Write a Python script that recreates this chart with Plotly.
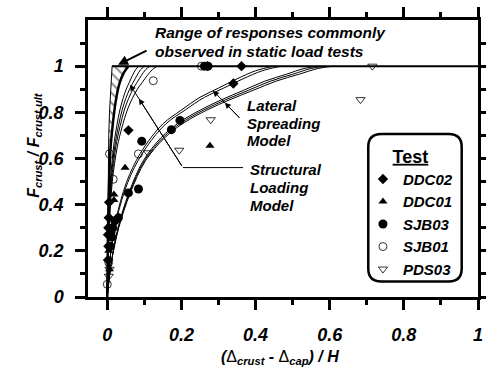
import plotly.graph_objects as go

# ---------------- data ----------------
# static load test range (hatched band)
static_lo_x = [0.0, 0.001, 0.002, 0.004, 0.006, 0.009, 0.013]
static_lo_y = [0.0, 0.30, 0.50, 0.70, 0.80, 0.90, 1.00]
static_hi_x = [0.0, 0.002, 0.005, 0.009, 0.015, 0.022, 0.032, 0.044, 0.057]
static_hi_y = [0.0, 0.30, 0.50, 0.65, 0.75, 0.84, 0.92, 0.97, 1.00]

# structural loading model curves
struct_y = [0.0, 0.20, 0.35, 0.50, 0.65, 0.74, 0.81, 0.86, 0.90, 0.93, 0.96, 0.985, 1.0]
struct1_x = [0.0, 0.0017, 0.0043, 0.0085, 0.017, 0.0255, 0.034, 0.0425, 0.051, 0.0595, 0.068, 0.0765, 0.085]
struct2_x = [0.0, 0.0020, 0.0050, 0.0100, 0.020, 0.0300, 0.040, 0.0500, 0.060, 0.0700, 0.080, 0.0900, 0.100]
struct3_x = [0.0, 0.0023, 0.0058, 0.0115, 0.023, 0.0345, 0.046, 0.0575, 0.069, 0.0805, 0.092, 0.1035, 0.115]
struct4_x = [0.0, 0.0027, 0.0068, 0.0135, 0.027, 0.0405, 0.054, 0.0675, 0.081, 0.0945, 0.108, 0.1215, 0.135]

# lateral spreading model curves (upper pair)
lat_a_y = [0.0, 0.20, 0.38, 0.53, 0.65, 0.75, 0.81, 0.865, 0.905, 0.945, 0.98, 1.0]
lat_a1_x = [0.0, 0.010, 0.030, 0.060, 0.100, 0.150, 0.200, 0.250, 0.300, 0.350, 0.400, 0.450]
lat_a2_x = [0.0, 0.010, 0.032, 0.064, 0.106, 0.158, 0.210, 0.262, 0.314, 0.366, 0.418, 0.470]

# lateral spreading model curves (lower triple)
lat_b_y = [0.0, 0.14, 0.30, 0.45, 0.59, 0.69, 0.755, 0.81, 0.855, 0.895, 0.935, 0.965, 0.99, 1.0]
lat_b1_x = [0.0, 0.010, 0.029, 0.058, 0.097, 0.145, 0.193, 0.251, 0.309, 0.367, 0.425, 0.483, 0.531, 0.570]
lat_b2_x = [0.0, 0.010, 0.030, 0.060, 0.100, 0.150, 0.200, 0.260, 0.320, 0.380, 0.440, 0.500, 0.550, 0.590]
lat_b3_x = [0.0, 0.010, 0.031, 0.062, 0.103, 0.155, 0.207, 0.269, 0.331, 0.393, 0.455, 0.517, 0.569, 0.610]

# ultimate plateau
plateau_x = [0.013, 1.0]
plateau_y = [1.0, 1.0]

# test data
ddc02_x = [0.362, 0.340, 0.270, 0.057, 0.004, 0.002, 0.003, 0.002, 0.005, 0.003]
ddc02_y = [1.000, 0.925, 1.000, 0.722, 0.343, 0.270, 0.220, 0.160, 0.410, 0.300]
ddc01_x = [0.277, 0.048, 0.018, 0.018, 0.005, 0.004, 0.006]
ddc01_y = [0.655, 0.560, 0.444, 0.420, 0.350, 0.200, 0.120]
sjb03_x = [0.262, 0.272, 0.196, 0.173, 0.093, 0.084, 0.057, 0.030, 0.015, 0.012, 0.020, 0.008, 0.010]
sjb03_y = [1.000, 1.000, 0.765, 0.725, 0.675, 0.468, 0.451, 0.343, 0.300, 0.260, 0.330, 0.220, 0.280]
sjb01_x = [0.254, 0.124, 0.084, 0.016, 0.000, 0.004, 0.006]
sjb01_y = [1.000, 0.937, 0.620, 0.510, 0.055, 0.150, 0.620]
pds03_x = [0.715, 0.683, 0.279, 0.194, 0.110, 0.006, 0.004]
pds03_y = [1.000, 0.855, 0.768, 0.636, 0.625, 0.120, 0.090]

x_ticks = [0, 0.2, 0.4, 0.6, 0.8, 1.0]
x_ticktext = ["0", "0.2", "0.4", "0.6", "0.8", "1"]
y_ticks = [0, 0.2, 0.4, 0.6, 0.8, 1.0]
y_ticktext = ["0", "0.2", "0.4", "0.6", "0.8", "1"]

# ---------------- figure ----------------
FONT = "Liberation Sans, Arial, sans-serif"
fig = go.Figure()

# hatched band
fig.add_trace(go.Scatter(
    x=static_lo_x + static_hi_x[::-1], y=static_lo_y + static_hi_y[::-1],
    mode="lines", fill="toself", fillcolor="white",
    fillpattern=dict(shape="\\", size=7, solidity=0.25, fgcolor="black", bgcolor="white"),
    line=dict(color="black", width=1), showlegend=False, hoverinfo="skip"))
fig.add_trace(go.Scatter(x=static_hi_x, y=static_hi_y, mode="lines",
                         line=dict(color="black", width=2.5, shape="spline"),
                         showlegend=False))

for xs in (struct1_x, struct2_x, struct3_x, struct4_x):
    fig.add_trace(go.Scatter(x=xs, y=struct_y, mode="lines",
                             line=dict(color="black", width=1, shape="spline"),
                             showlegend=False))
for xs in (lat_a1_x, lat_a2_x):
    fig.add_trace(go.Scatter(x=xs, y=lat_a_y, mode="lines",
                             line=dict(color="black", width=1, shape="spline"),
                             showlegend=False))
for xs in (lat_b1_x, lat_b2_x, lat_b3_x):
    fig.add_trace(go.Scatter(x=xs, y=lat_b_y, mode="lines",
                             line=dict(color="black", width=1, shape="spline"),
                             showlegend=False))
fig.add_trace(go.Scatter(x=plateau_x, y=plateau_y, mode="lines",
                         line=dict(color="black", width=2), showlegend=False))

series = [
    ("DDC02", ddc02_x, ddc02_y, dict(symbol="diamond", size=8, color="black")),
    ("DDC01", ddc01_x, ddc01_y, dict(symbol="triangle-up", size=8, color="black")),
    ("SJB03", sjb03_x, sjb03_y, dict(symbol="circle", size=9, color="black")),
    ("SJB01", sjb01_x, sjb01_y, dict(symbol="circle-open", size=8, color="black", line=dict(width=0.8))),
    ("PDS03", pds03_x, pds03_y, dict(symbol="triangle-down-open", size=8, color="black", line=dict(width=0.8))),
]
for i, (name, xs, ys, mk) in enumerate(series):
    fig.add_trace(go.Scatter(x=xs, y=ys, mode="markers", name=name, marker=mk,
                             legendgroup=name, cliponaxis=False))

tickfont = dict(family=FONT, size=18, color="black", weight="bold", style="italic")
axis_common = dict(showline=True, linewidth=2.5, linecolor="black", mirror="ticks",
                   ticks="outside", ticklen=10, tickwidth=2.5, tickcolor="black",
                   showgrid=False, zeroline=False, tickfont=tickfont, automargin=False)
fig.update_xaxes(range=[-0.052, 1.0], tickvals=x_ticks, ticktext=x_ticktext,
                 ticklabelstandoff=10,
                 minor=dict(tickvals=[0.1, 0.3, 0.5, 0.7, 0.9], ticklen=5, tickwidth=2.5,
                            ticks="outside", tickcolor="black"),
                 **axis_common)
fig.update_yaxes(range=[0, 1.2], tickvals=y_ticks, ticktext=y_ticktext,
                 ticklabelstandoff=8,
                 minor=dict(tickvals=[0.1, 0.3, 0.5, 0.7, 0.9, 1.1], ticklen=5, tickwidth=2.5,
                            ticks="outside", tickcolor="black"),
                 **axis_common)

txt = dict(family=FONT, size=15, color="black", weight="bold", style="italic")
big = dict(family=FONT, size=15.5, color="black", weight="bold", style="italic")
ann = []
ann.append(dict(x=0.166, y=0.954, xref="paper", yref="paper", text="Range of responses commonly",
                showarrow=False, font=big, xanchor="left", yanchor="middle"))
ann.append(dict(x=0.166, y=0.886, xref="paper", yref="paper", text="observed in static load tests",
                showarrow=False, font=big, xanchor="left", yanchor="middle"))
for t, yy in (("Lateral", 0.829), ("Spreading", 0.751), ("Model", 0.677)):
    ann.append(dict(x=0.372, y=yy, xref="x", yref="y", text=t, showarrow=False,
                    xanchor="left", yanchor="middle", font=txt))
for t, yy in (("Structural", 0.552), ("Loading", 0.474), ("Model", 0.396)):
    ann.append(dict(x=0.379, y=yy, xref="x", yref="y", text=t, showarrow=False,
                    xanchor="left", yanchor="middle", font=txt))
# arrows
ann.append(dict(x=0.029, y=1.006, ax=0.110, ay=1.071, xref="x", yref="y", axref="x", ayref="y",
                text="", showarrow=True, arrowhead=2, arrowsize=1.0, arrowwidth=2, arrowcolor="black"))
for hx, hy in ((0.0612, 0.92), (0.0854, 0.8593)):
    ann.append(dict(x=hx, y=hy, ax=0.204, ay=0.5606, xref="x", yref="y", axref="x", ayref="y",
                    text="", showarrow=True, arrowhead=2, arrowsize=1.2, arrowwidth=1, arrowcolor="black"))
for hx, hy in ((0.285, 0.894), (0.317, 0.842)):
    ann.append(dict(x=hx, y=hy, ax=0.3604, ay=0.77, xref="x", yref="y", axref="x", ayref="y",
                    text="", showarrow=True, arrowhead=2, arrowsize=1.2, arrowwidth=1, arrowcolor="black"))
# axis titles
ann.append(dict(x=-0.138, y=0.55, xref="paper", yref="paper", textangle=-90, showarrow=False,
                xanchor="center", yanchor="middle",
                text="<b><i>F<sub>crust</sub> / F<sub>crust,ult</sub></i></b>",
                font=dict(family=FONT, size=16, color="black")))
ann.append(dict(x=0.492, y=-0.218, xref="paper", yref="paper", showarrow=False,
                xanchor="center", yanchor="middle",
                text="<b><i>(</i></b>Δ<sub><b><i>crust</i></b></sub><b><i> - </i></b>Δ<sub><b><i>cap</i></b></sub><b><i>) / H</i></b>",
                font=dict(family=FONT, size=16, color="black")))

# legend box (rounded)
L, R, T, B = 0.704, 0.956, 0.7056, 0.067
rx, ry = 0.035, 0.056
path = (f"M {L+rx},{T} L {R-rx},{T} Q {R},{T} {R},{T-ry} L {R},{B+ry} Q {R},{B} {R-rx},{B} "
        f"L {L+rx},{B} Q {L},{B} {L},{B+ry} L {L},{T-ry} Q {L},{T} {L+rx},{T} Z")
shapes = [
    dict(type="path", path=path, xref="x", yref="y", line=dict(color="black", width=2.5),
         fillcolor="rgba(0,0,0,0)"),
    dict(type="line", x0=0.204, x1=0.366, y0=0.5606, y1=0.5606, xref="x", yref="y",
         line=dict(color="black", width=1)),
]

fig.update_layout(
    width=486, height=370, margin=dict(l=88, r=8, t=20, b=73, autoexpand=False),
    plot_bgcolor="white", paper_bgcolor="white",
    annotations=ann, shapes=shapes,
    legend=dict(x=0.705, y=0.569, xanchor="left", yanchor="top",
                bgcolor="rgba(0,0,0,0)", borderwidth=0, tracegroupgap=0,
                font=dict(family=FONT, size=15, color="black", weight="bold", style="italic"),
                title=dict(text="<u>Test</u>", side="top center",
                           font=dict(family=FONT, size=18, color="black", weight="bold", style="normal"))),
)
fig.write_html("out.html")
